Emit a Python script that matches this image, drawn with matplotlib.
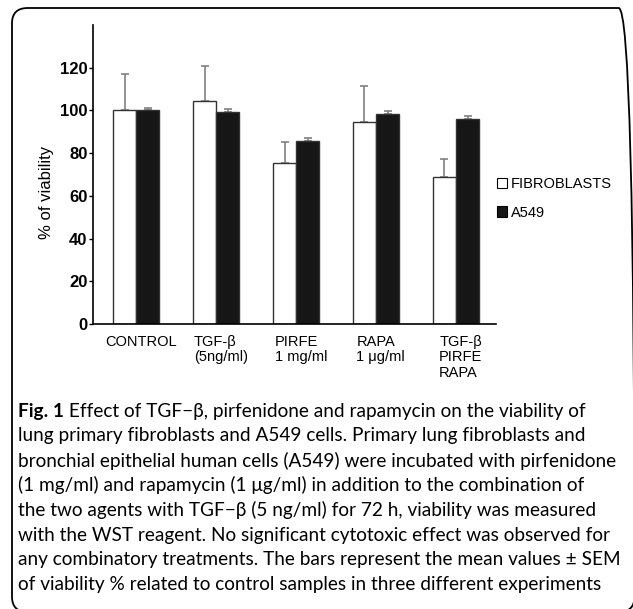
import numpy as np
import matplotlib
matplotlib.use("Agg")
import matplotlib.pyplot as plt
from matplotlib.patches import FancyBboxPatch, Rectangle

# data
groups = ["CONTROL", "TGF-β\n(5ng/ml)", "PIRFE\n1 mg/ml", "RAPA\n1 μg/ml", "TGF-β\nPIRFE\nRAPA"]
fibro = [100.3, 104.5, 75.6, 94.5, 68.8]
fibro_err = [16.8, 16.2, 9.4, 17.0, 8.4]
a549 = [100.0, 99.4, 85.8, 98.3, 95.8]
a549_err = [1.0, 1.2, 1.2, 1.2, 1.5]
yticks = [0, 20, 40, 60, 80, 100, 120]

caption_first = " Effect of TGF\u2212β, pirfenidone and rapamycin on the viability of"
caption = [
    "lung primary fibroblasts and A549 cells. Primary lung fibroblasts and",
    "bronchial epithelial human cells (A549) were incubated with pirfenidone",
    "(1 mg/ml) and rapamycin (1 μg/ml) in addition to the combination of",
    "the two agents with TGF\u2212β (5 ng/ml) for 72 h, viability was measured",
    "with the WST reagent. No significant cytotoxic effect was observed for",
    "any combinatory treatments. The bars represent the mean values ± SEM",
    "of viability % related to control samples in three different experiments",
]

plt.rcParams['font.family'] = ['Liberation Sans', 'DejaVu Sans']

fig = plt.figure(figsize=(6.33, 6.09), dpi=100)
W, H = 633, 609

# rounded frame (right and bottom edges fall just outside the picture)
frame = FancyBboxPatch((12 / W, -3 / H), (634.5 - 12) / W, (609 - 8 + 3) / H,
                       boxstyle="round,pad=0,rounding_size=0.025",
                       transform=fig.transFigure, fc="none", ec="black", lw=1.3)
fig.patches.append(frame)

ax = fig.add_axes([93 / W, 1 - 324 / H, (496 - 93) / W, (324 - 25) / H])
x = np.arange(len(groups))
w = 0.29
ax.bar(x - w / 2, fibro, w, color="white", edgecolor="#333333", lw=1.0, zorder=2)
ax.bar(x + w / 2, a549, w, color="#161616", edgecolor="#333333", lw=1.0, zorder=2)
ax.errorbar(x - w / 2, fibro, yerr=[np.zeros(5), fibro_err], fmt="none",
            ecolor="#808080", elinewidth=1.2, capsize=3, capthick=1.2, zorder=1)
ax.errorbar(x + w / 2, a549, yerr=[np.zeros(5), a549_err], fmt="none",
            ecolor="#808080", elinewidth=1.2, capsize=3, capthick=1.2, zorder=1)

ax.set_xlim(-0.54, 4.5)
ax.set_ylim(0, 140)
ax.set_yticks(yticks)
ax.set_yticklabels([str(t) for t in yticks], fontsize=12, fontweight="bold")
ax.tick_params(axis="y", length=3, width=1, pad=1)
ax.set_xticks([])
for s in ["top", "right"]:
    ax.spines[s].set_visible(False)
ax.spines["left"].set_linewidth(1.2)
ax.spines["bottom"].set_linewidth(1.2)

for xi, lab in zip(x, groups):
    ax.text(xi + 0.06, -5, lab, ha="center", va="top", multialignment="left",
            fontsize=10.5, linespacing=1.15)

fig.text(46 / W, 1 - 192 / H, "% of viability", rotation=90, ha="center",
         va="center", fontsize=12)

handles = [Rectangle((0, 0), 1, 1, fc="white", ec="black", lw=0.8),
           Rectangle((0, 0), 1, 1, fc="#161616", ec="black", lw=0.8)]
fig.legend(handles, ["FIBROBLASTS", "A549"], loc="upper left",
           bbox_to_anchor=(497 / W, 1 - 177 / H), frameon=False, fontsize=10.5,
           handlelength=0.7, handleheight=0.7, handletextpad=0.25,
           labelspacing=1.0, borderaxespad=0, borderpad=0)

# caption
cap_font = "Lato"
cap_size = 13.7
y0 = 411
dy = 24.8
t = fig.text(18 / W, 1 - y0 / H, "Fig. 1", fontsize=cap_size, fontweight="bold",
             family=cap_font, va="center")
ax.annotate(caption_first, xy=(1, 0.5), xycoords=t, va="center",
            fontsize=cap_size, family=cap_font, annotation_clip=False)
for i, line in enumerate(caption):
    fig.text(18 / W, 1 - (y0 + dy * (i + 1)) / H, line, fontsize=cap_size,
             family=cap_font, va="center")

fig.savefig("out.png", dpi=100)
